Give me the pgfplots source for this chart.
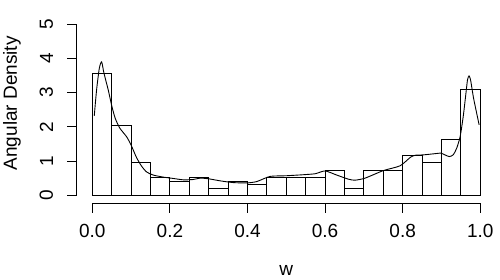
\documentclass[border=0pt]{standalone}
\usepackage{fontspec}
\setmainfont{Liberation Sans}
\usepackage{pgfplots}
\pgfplotsset{compat=1.18}
\begin{document}
\begin{tikzpicture}[x=1pt,y=1pt]
\useasboundingbox (0,0) rectangle (500,280);
\begin{axis}[
  at={(76.8pt,76.9pt)}, anchor=south west,
  scale only axis, width=419.0pt, height=199.9pt,
  xmin=-0.04, xmax=1.04, ymin=-0.23, ymax=5.616,
  clip=false,
  axis x line*=bottom, axis y line*=left,
  axis line style={draw=none},
  xtick={0,0.2,0.4,0.6,0.8,1.0},
  xticklabels={0.0,0.2,0.4,0.6,0.8,1.0},
  ytick={0,1,2,3,4,5},
  yticklabels={0,1,2,3,4,5},
  tick align=outside, major tick length=9.5pt,
  tick style={black, line width=1pt},
  every tick label/.append style={font=\fontsize{19}{22}\selectfont},
  xticklabel style={anchor=north, inner sep=0pt, yshift=-11.5pt},
  yticklabel style={xshift=-14pt, rotate=90, anchor=south, inner sep=0pt},
]
\addplot[ybar interval, draw=black, fill=white, line width=1pt] coordinates {
(0.00,3.55) (0.05,2.05) (0.10,0.965) (0.15,0.53) (0.20,0.41)
(0.25,0.53) (0.30,0.205) (0.35,0.40) (0.40,0.32) (0.45,0.53)
(0.50,0.53) (0.55,0.53) (0.60,0.73) (0.65,0.205) (0.70,0.73)
(0.75,0.73) (0.80,1.17) (0.85,0.965) (0.90,1.62) (0.95,3.10)
(1.00,3.10)
};
\addplot[black, line width=0.9pt, smooth, tension=0.4, mark=none] coordinates {
(0.005,2.32) (0.011,3.08) (0.018,3.71) (0.024,3.90) (0.030,3.57)
(0.041,3.08) (0.050,2.62) (0.059,2.25) (0.071,1.96) (0.089,1.70)
(0.101,1.44) (0.114,1.10) (0.127,0.85) (0.140,0.68) (0.157,0.59)
(0.183,0.53) (0.209,0.49) (0.235,0.45) (0.26,0.46) (0.278,0.50)
(0.30,0.48) (0.33,0.42) (0.363,0.37) (0.398,0.36) (0.424,0.40)
(0.458,0.55) (0.50,0.57) (0.544,0.60) (0.575,0.63) (0.60,0.71)
(0.63,0.59) (0.66,0.47) (0.677,0.44) (0.703,0.50) (0.75,0.72)
(0.793,0.86) (0.82,1.11) (0.833,1.17) (0.853,1.18) (0.879,1.21)
(0.898,1.23) (0.909,1.18) (0.92,1.13) (0.93,1.18) (0.939,1.37)
(0.948,1.71) (0.956,2.30) (0.962,2.88) (0.967,3.37) (0.971,3.49)
(0.975,3.37) (0.982,2.88) (0.989,2.49) (0.997,2.06)
};
\draw[line width=1pt] (axis cs:0,-0.23) -- (axis cs:1,-0.23);
\draw[line width=1pt] (axis cs:-0.04,0) -- (axis cs:-0.04,5);
\end{axis}
\node[rotate=90, anchor=base, font=\fontsize{19}{22}\selectfont] at (16.8,176.7) {Angular Density};
\node[anchor=base, font=\fontsize{19}{22}\selectfont] at (286.3,4) {w};
\end{tikzpicture}
\end{document}
